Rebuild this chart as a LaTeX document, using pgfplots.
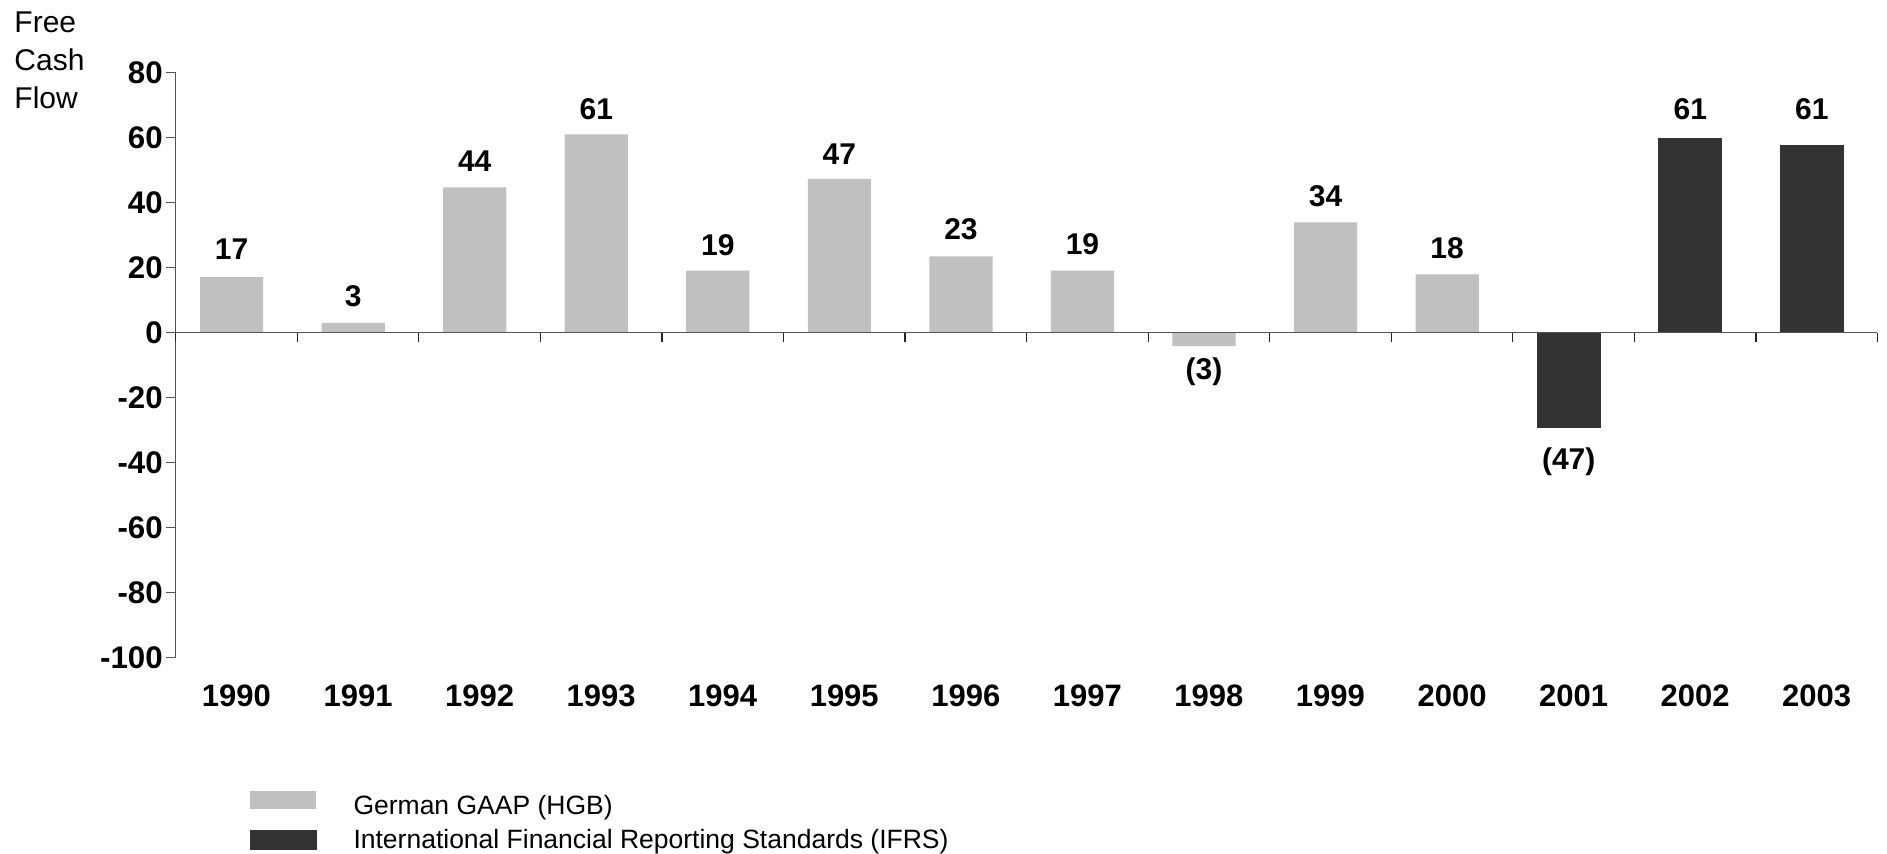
\documentclass[border=0pt]{standalone}
\usepackage{pgfplots}
\pgfplotsset{compat=1.18}
\usepackage{fontspec}
\setmainfont{Liberation Sans}
\definecolor{hgb}{HTML}{C0C0C0}
\definecolor{ifrs}{HTML}{333333}
\definecolor{axisgray}{HTML}{555555}
\newcommand{\lblfont}{\bfseries\fontsize{12}{14}\selectfont}
\begin{document}
\begin{tikzpicture}
\path[use as bounding box] (0,0) rectangle (754.8pt,-341.6pt);
\begin{axis}[
  at={(70.28pt,-262.92pt)}, anchor=south west,
  scale only axis, width=680.7pt, height=233.8pt,
  xmin=-0.5, xmax=13.5, ymin=-100, ymax=80,
  axis x line*=bottom, axis y line*=left,
  x axis line style={draw=none},
  y axis line style={draw=axisgray, line width=0.5pt},
  xtick={0,1,2,3,4,5,6,7,8,9,10,11,12,13},
  xticklabels={1990,1991,1992,1993,1994,1995,1996,1997,1998,1999,2000,2001,2002,2003},
  x tick style={draw=none},
  xticklabel style={anchor=center, yshift=-11.4pt, font=\bfseries\fontsize{12.4}{14}\selectfont},
  ytick={-100,-80,-60,-40,-20,0,20,40,60,80},
  yticklabels={-100,-80,-60,-40,-20,0,20,40,60,80},
  y tick style={draw=axisgray, line width=0.5pt},
  tick align=outside, major tick length=4pt,
  yticklabel style={font=\bfseries\fontsize{12.5}{14}\selectfont, inner sep=1pt},
  ybar, bar width=0.52,
  clip=false,
]
\addplot[fill=hgb, draw=none, bar shift=-0.04] coordinates {
  (0,17.1) (1,3.0) (2,44.7) (3,61.0) (4,19.1) (5,47.3) (6,23.5)
  (7,19.1) (8,-4.2) (9,33.9) (10,17.9)
};
\addplot[fill=ifrs, draw=black!80, line width=0.4pt, bar shift=-0.04] coordinates {
  (11,-29.3) (12,59.7) (13,57.7)
};
\draw[axisgray, line width=0.6pt] (axis cs:-0.5,0) -- (axis cs:13.5,0);
\pgfplotsinvokeforeach{-0.5,0.5,1.5,2.5,3.5,4.5,5.5,6.5,7.5,8.5,9.5,10.5,11.5,12.5,13.5}{
  \draw[black!85, line width=0.5pt] (axis cs:#1,0) -- (axis cs:#1,-2.8);
}
\node[font=\lblfont] at (axis cs:-0.04,25.6) {17};
\node[font=\lblfont] at (axis cs:0.96,11.2) {3};
\node[font=\lblfont] at (axis cs:1.96,52.8) {44};
\node[font=\lblfont] at (axis cs:2.96,68.8) {61};
\node[font=\lblfont] at (axis cs:3.96,26.9) {19};
\node[font=\lblfont] at (axis cs:4.96,55.0) {47};
\node[font=\lblfont] at (axis cs:5.96,31.7) {23};
\node[font=\lblfont] at (axis cs:6.96,27.2) {19};
\node[font=\lblfont] at (axis cs:7.96,-12.1) {(3)};
\node[font=\lblfont] at (axis cs:8.96,42.0) {34};
\node[font=\lblfont] at (axis cs:9.96,26.1) {18};
\node[font=\lblfont] at (axis cs:10.96,-39.7) {(47)};
\node[font=\lblfont] at (axis cs:11.96,68.7) {61};
\node[font=\lblfont] at (axis cs:12.96,68.7) {61};
\end{axis}
\node[anchor=north west, inner sep=0pt, align=left, font=\fontsize{12}{15.2}\selectfont] at (5.6pt,-4.67pt) {Free\\Cash\\Flow};
\fill[hgb] (100pt,-316.4pt) rectangle (126.4pt,-323.6pt);
\filldraw[fill=ifrs, draw=black!80, line width=0.3pt] (100pt,-332pt) rectangle (126.4pt,-339.6pt);
\node[anchor=base west, inner sep=0pt, font=\fontsize{10.6}{12}\selectfont] at (141.2pt,-326pt) {German GAAP (HGB)};
\node[anchor=base west, inner sep=0pt, font=\fontsize{10.6}{12}\selectfont] at (141.2pt,-339.4pt) {International Financial Reporting Standards (IFRS)};
\end{tikzpicture}
\end{document}
